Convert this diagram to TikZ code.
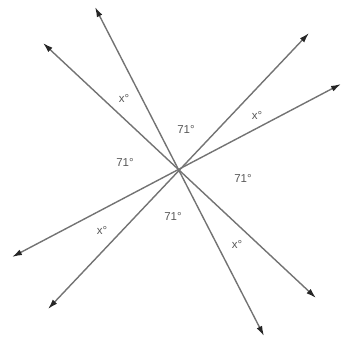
\documentclass[tikz,border=0pt]{standalone}
\usepackage{fontspec}
\setmainfont{Liberation Sans}
\usetikzlibrary{arrows.meta}
\begin{document}
\begin{tikzpicture}[x=1pt,y=-1pt,
  ray/.style={draw=black!55, line width=1.4pt, {Latex[length=10pt,width=6pt,black!85]}-{Latex[length=10pt,width=6pt,black!85]}},
  lbl/.style={text=black!65, font=\fontsize{11.5}{12}\selectfont, inner sep=0pt}]
\useasboundingbox (0,0) rectangle (343,343);
\coordinate (O) at (178,171);
\coordinate (a1) at (95,7);
\coordinate (a2) at (264,336);
\coordinate (b1) at (43,43);
\coordinate (b2) at (316,298);
\coordinate (c1) at (309,33);
\coordinate (c2) at (48,309);
\coordinate (d1) at (341,84);
\coordinate (d2) at (12,257);
\draw[ray] (a1) -- (a2);
\draw[ray] (b1) -- (b2);
\draw[ray] (c1) -- (c2);
\draw[ray] (d1) -- (d2);
\node[lbl] (l1) at (124,98) {x°};
\node[lbl] (l2) at (186,129) {71°};
\node[lbl] (l3) at (257,115) {x°};
\node[lbl] (l4) at (125,162) {71°};
\node[lbl] (l5) at (243,178) {71°};
\node[lbl] (l6) at (173,216) {71°};
\node[lbl] (l7) at (102,230) {x°};
\node[lbl] (l8) at (237,244) {x°};
\end{tikzpicture}
\end{document}
